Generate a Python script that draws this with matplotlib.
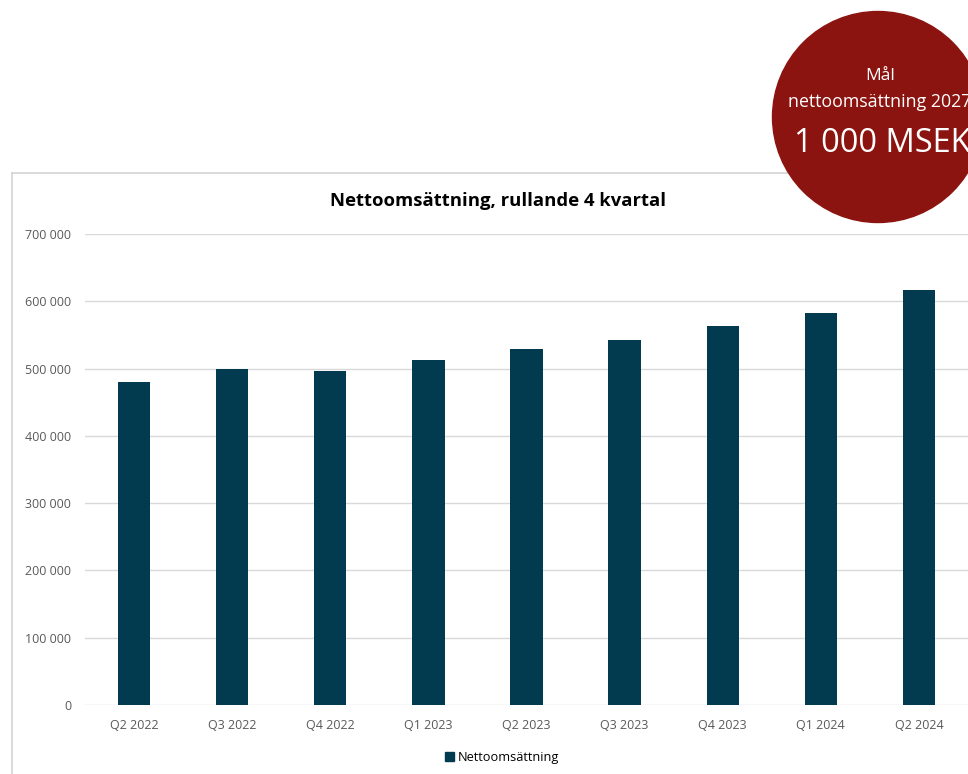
import matplotlib
matplotlib.use("Agg")
import matplotlib.pyplot as plt
from matplotlib.patches import Circle, Rectangle
from matplotlib.ticker import FuncFormatter

quarters = ["Q2 2022", "Q3 2022", "Q4 2022", "Q1 2023", "Q2 2023",
            "Q3 2023", "Q4 2023", "Q1 2024", "Q2 2024"]
net_sales = [480000, 500000, 496000, 512000, 529000, 542000, 564000, 582000, 617000]
y_ticks = [0, 100000, 200000, 300000, 400000, 500000, 600000, 700000]

title = "Nettoomsättning, rullande 4 kvartal"
series_name = "Nettoomsättning"
badge_lines = ["Mål", "nettoomsättning 2027", "1 000 MSEK"]

plt.rcParams['font.family'] = ['Open Sans', 'DejaVu Sans']

W, H = 968, 774
fig = plt.figure(figsize=(W / 100, H / 100), dpi=100)

bar_color = "#023a50"
grid_color = "#d9d9d9"
tick_color = "#595959"

ax = fig.add_axes([85 / W, 1 - 705 / H, (W - 85) / W, (705 - 234) / H])
x = list(range(len(quarters)))
ax.bar(x, net_sales, width=0.33, color=bar_color, zorder=3)
ax.set_xlim(-0.5, len(quarters) - 0.5)
ax.set_ylim(0, 700000)
ax.set_yticks(y_ticks)
ax.yaxis.set_major_formatter(FuncFormatter(lambda v, p: f"{int(v):,}".replace(",", " ")))
ax.set_xticks(x)
ax.set_xticklabels(quarters)
ax.grid(axis='y', color=grid_color, linewidth=1, zorder=0)
ax.set_axisbelow(True)
for s in ax.spines.values():
    s.set_visible(False)
ax.tick_params(axis='both', length=0, labelsize=9, labelcolor=tick_color)
ax.tick_params(axis='x', pad=10)
ax.tick_params(axis='y', pad=10)

# overlay in pixel coordinates
ov = fig.add_axes([0, 0, 1, 1], zorder=5)
ov.set_xlim(0, W)
ov.set_ylim(H, 0)
ov.axis('off')
ov.patch.set_alpha(0)

# chart frame
ov.plot([12, W], [173, 173], color="#d4d4d4", linewidth=1.2)
ov.plot([12, 12], [173, H], color="#d4d4d4", linewidth=1.2)

ov.text(498, 201, title, ha='center', va='center', fontsize=13.3,
        fontweight='bold', color='black')

# legend
ov.add_patch(Rectangle((445, 752), 9, 9, color=bar_color))
ov.text(458, 757, series_name, ha='left', va='center', fontsize=9.2, color='black')

# badge circle
ov.add_patch(Circle((878, 117), 105.5, color="#8c1410", zorder=10))
ov.text(880, 76, badge_lines[0], ha='center', va='center', fontsize=12.5,
        color='white', zorder=11)
ov.text(880, 102, badge_lines[1], ha='center', va='center', fontsize=12.8,
        color='white', zorder=11)
ov.text(882, 143, badge_lines[2], ha='center', va='center', fontsize=23.5,
        color='white', zorder=11)

fig.savefig("out.png", dpi=100)
